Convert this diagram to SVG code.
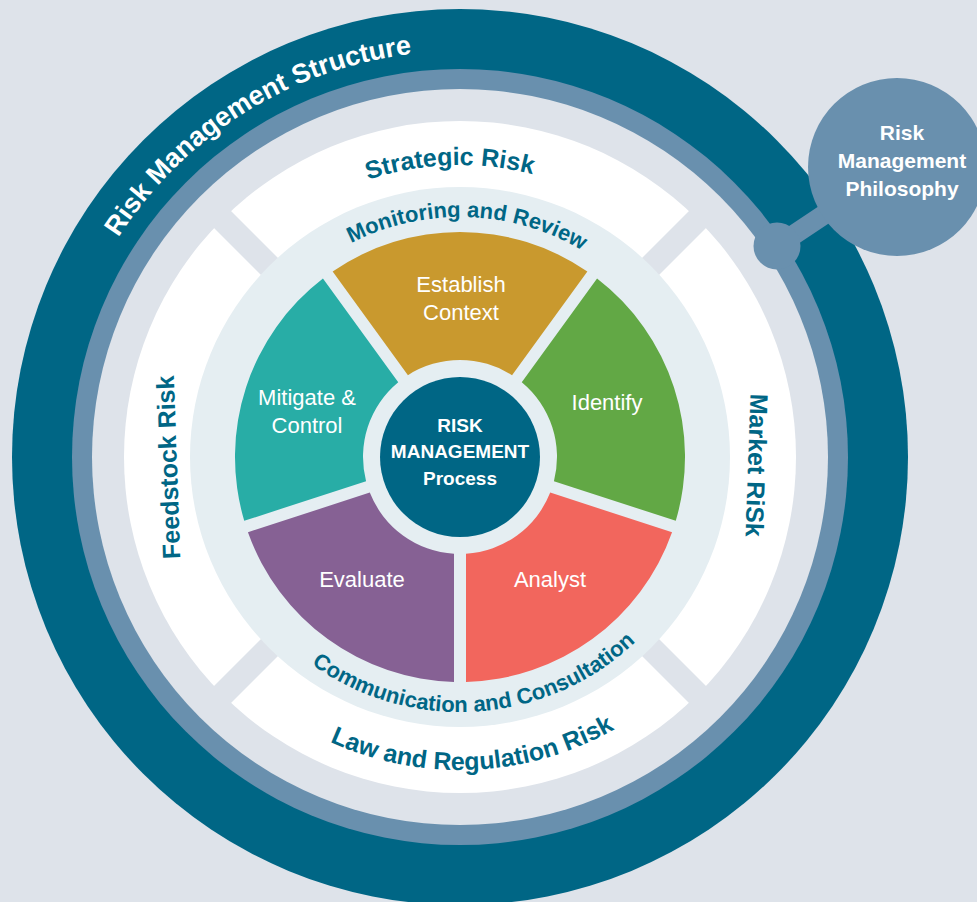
<svg xmlns="http://www.w3.org/2000/svg" xmlns:xlink="http://www.w3.org/1999/xlink" width="977" height="902" viewBox="0 0 977 902">
<style>
.bold{font-family:"Liberation Sans",Arial,sans-serif;font-weight:bold}
.reg{font-family:"Liberation Sans",Arial,sans-serif;font-weight:normal}
.ring{fill:#006685;font-size:25px}
.inner{fill:#006685;font-size:22px}
.seg{fill:#ffffff;font-size:22px}
.wt{fill:#ffffff}
</style>
<defs>
<path id="p-structure" d="M 54 457 A 406 406 0 0 1 866 457"/>
<path id="p-strategic" d="M 168 457 A 292 292 0 0 1 752 457"/>
<path id="p-monitor" d="M 220 457 A 240 240 0 0 1 700 457"/>
<path id="p-comm" d="M 205 457 A 255 255 0 0 0 715 457"/>
<path id="p-law" d="M 147 457 A 313 313 0 0 0 773 457"/>
</defs>
<rect x="0" y="0" width="977" height="902" fill="#dee3ea"/>

<g id="structure-ring">
<circle cx="460" cy="457" r="448" fill="#006685"/>
<circle cx="460" cy="457" r="388" fill="#6990ae"/>
<circle cx="460" cy="457" r="368" fill="#dee3ea"/>
<text class="bold wt" font-size="27"><textPath xlink:href="#p-structure" href="#p-structure" startOffset="32.2%" text-anchor="middle">Risk Management Structure</textPath></text>
</g>

<g id="risk-ring">
<circle cx="460" cy="457" r="336" fill="#ffffff"/>
<g stroke="#dee3ea" stroke-width="24">
<line x1="212" y1="209" x2="708" y2="705"/>
<line x1="708" y1="209" x2="212" y2="705"/>
</g>
</g>

<g id="strategic-risk">
<text class="bold ring"><textPath xlink:href="#p-strategic" href="#p-strategic" startOffset="48.9%" text-anchor="middle">Strategic Risk</textPath></text>
</g>
<g id="law-risk">
<text class="bold ring"><textPath xlink:href="#p-law" href="#p-law" startOffset="51.4%" text-anchor="middle">Law and Regulation Risk</textPath></text>
</g>
<g id="feedstock-risk">
<text class="bold ring" text-anchor="middle" transform="translate(177,467) rotate(-92)">Feedstock Risk</text>
</g>
<g id="market-risk">
<text class="bold ring" text-anchor="middle" transform="translate(748,465) rotate(92)">Market RiSk</text>
</g>

<g id="process-ring">
<circle cx="460" cy="457" r="270" fill="#e5eef2"/>
</g>
<g id="monitoring">
<text class="bold inner"><textPath xlink:href="#p-monitor" href="#p-monitor" startOffset="51%" text-anchor="middle">Monitoring and Review</textPath></text>
</g>
<g id="communication">
<text class="bold inner"><textPath xlink:href="#p-comm" href="#p-comm" startOffset="52.2%" text-anchor="middle">Communication and Consultation</textPath></text>
</g>

<g id="establish-context">
<path d="M 332.65 271.5 A 225 225 0 0 1 587.35 271.5 L 512.05 375.15 A 97 97 0 0 0 407.95 375.15 Z" fill="#c9992e"/>
<text class="reg seg" x="461" y="292" text-anchor="middle">Establish</text>
<text class="reg seg" x="461" y="320" text-anchor="middle">Context</text>
</g>
<g id="identify">
<path d="M 597.06 278.56 A 225 225 0 0 1 675.77 520.8 L 553.93 481.21 A 97 97 0 0 0 521.76 382.21 Z" fill="#62a845"/>
<text class="reg seg" x="607" y="410" text-anchor="middle">Identify</text>
</g>
<g id="analyst">
<path d="M 672.06 532.21 A 225 225 0 0 1 466 681.92 L 466 553.81 A 97 97 0 0 0 550.22 492.62 Z" fill="#f2665d"/>
<text class="reg seg" x="550" y="587" text-anchor="middle">Analyst</text>
</g>
<g id="evaluate">
<path d="M 454 681.92 A 225 225 0 0 1 247.94 532.21 L 369.78 492.62 A 97 97 0 0 0 454 553.81 Z" fill="#866194"/>
<text class="reg seg" x="362" y="587" text-anchor="middle">Evaluate</text>
</g>
<g id="mitigate-control">
<path d="M 244.23 520.8 A 225 225 0 0 1 322.94 278.56 L 398.24 382.21 A 97 97 0 0 0 366.07 481.21 Z" fill="#28ada6"/>
<text class="reg seg" x="307" y="405" text-anchor="middle">Mitigate &amp;</text>
<text class="reg seg" x="307" y="433" text-anchor="middle">Control</text>
</g>

<g id="risk-management-process">
<circle cx="460" cy="457" r="80" fill="#006685"/>
<text class="bold wt" font-size="19" x="460" y="432" text-anchor="middle">RISK</text>
<text class="bold wt" font-size="19" x="460" y="458" text-anchor="middle">MANAGEMENT</text>
<text class="bold wt" font-size="19" x="460" y="485" text-anchor="middle">Process</text>
</g>

<g id="connectors">
<line x1="777" y1="246" x2="897" y2="166" stroke="#6990ae" stroke-width="20"/>
<circle cx="777" cy="246" r="23.5" fill="#6990ae"/>
</g>

<g id="philosophy">
<circle cx="897" cy="167" r="89" fill="#6990ae"/>
<text class="bold wt" font-size="21" x="902" y="140" text-anchor="middle">Risk</text>
<text class="bold wt" font-size="21" x="902" y="168" text-anchor="middle">Management</text>
<text class="bold wt" font-size="21" x="902" y="196" text-anchor="middle">Philosophy</text>
</g>
</svg>
